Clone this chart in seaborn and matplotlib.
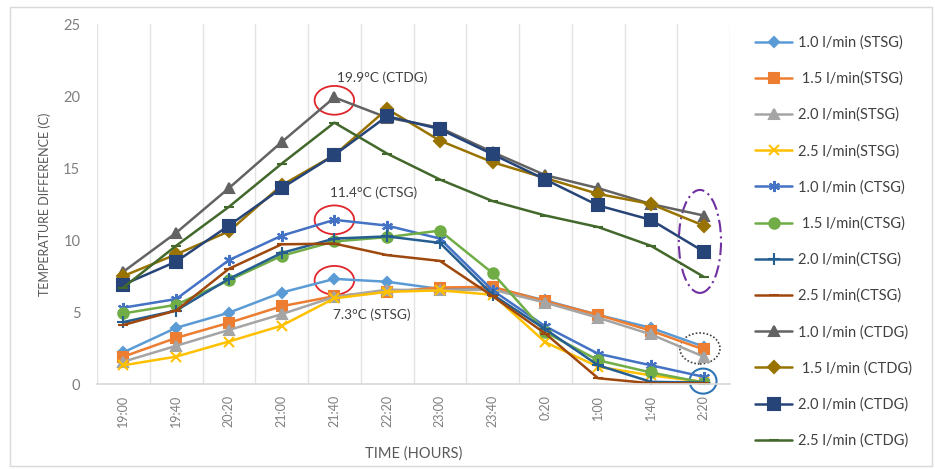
import numpy as np
import pandas as pd
import matplotlib
matplotlib.use("Agg")
import matplotlib.pyplot as plt
from matplotlib.patches import Ellipse, Rectangle
import seaborn as sns

# Sampling times over the night
times = ["19:00", "19:40", "20:20", "21:00", "21:40", "22:20",
         "23:00", "23:40", "0:20", "1:00", "1:40", "2:20"]

# Temperature difference (C) for each flow rate and generator type
stsg_10 = [2.2, 3.9, 4.95, 6.35, 7.3, 7.1, 6.6, 6.7, 5.8, 4.8, 3.9, 2.6]
stsg_15 = [1.9, 3.2, 4.25, 5.4, 6.1, 6.4, 6.7, 6.75, 5.75, 4.8, 3.7, 2.4]
stsg_20 = [1.55, 2.65, 3.75, 4.85, 6.05, 6.55, 6.5, 6.55, 5.65, 4.6, 3.45, 1.9]
stsg_25 = [1.3, 1.9, 2.95, 4.05, 5.95, 6.4, 6.5, 6.2, 2.9, 1.2, 0.6, 0.15]

ctsg_10 = [5.3, 5.9, 8.6, 10.3, 11.4, 11.0, 10.1, 6.5, 4.0, 2.1, 1.3, 0.5]
ctsg_15 = [4.9, 5.5, 7.2, 8.9, 9.9, 10.2, 10.65, 7.7, 3.6, 1.65, 0.8, 0.1]
ctsg_20 = [4.3, 5.1, 7.3, 9.1, 10.1, 10.25, 9.8, 6.2, 3.8, 1.3, 0.15, 0.1]
ctsg_25 = [4.1, 5.1, 8.0, 9.7, 9.75, 8.95, 8.55, 6.1, 3.5, 0.4, 0.05, 0.05]

ctdg_10 = [7.8, 10.5, 13.6, 16.8, 19.9, 18.5, 17.8, 16.1, 14.5, 13.6, 12.5, 11.7]
ctdg_15 = [7.5, 9.0, 10.6, 13.8, 15.9, 19.1, 16.9, 15.4, 14.3, 13.2, 12.5, 11.0]
ctdg_20 = [6.9, 8.5, 11.0, 13.6, 15.9, 18.6, 17.7, 15.95, 14.2, 12.4, 11.4, 9.2]
ctdg_25 = [6.7, 9.6, 12.3, 15.3, 18.15, 16.0, 14.2, 12.7, 11.7, 10.9, 9.6, 7.45]

labels = ["1.0 l/min (STSG)", " 1.5 l/min(STSG)", "2.0 l/min(STSG)", "2.5 l/min(STSG)",
          "1.0 l/min (CTSG)", " 1.5 l/min(CTSG)", "2.0 l/min(CTSG)", "2.5 l/min(CTSG)",
          "1.0 l/min (CTDG)", " 1.5 l/min (CTDG)", "2.0 l/min (CTDG)", "2.5 l/min (CTDG)"]
series = [stsg_10, stsg_15, stsg_20, stsg_25,
          ctsg_10, ctsg_15, ctsg_20, ctsg_25,
          ctdg_10, ctdg_15, ctdg_20, ctdg_25]

colors = ["#5B9BD5", "#ED7D31", "#A5A5A5", "#FFC000",
          "#4472C4", "#70AD47", "#255E91", "#9E480E",
          "#636363", "#997300", "#264478", "#43682B"]
markers = ["D", "s", "^", "x", (6, 2, 0), "o", "+", "_",
           "^", "D", "s", "_"]
msizes = [5.5, 7.5, 7, 7, 8, 7.5, 8, 7, 7.5, 6, 9, 7]

sns.set_theme(style="white")
plt.rcParams["font.family"] = ["Lato", "DejaVu Sans"]

fig = plt.figure(figsize=(9.35, 4.69), dpi=100)
ax = fig.add_axes([97 / 935, 1 - 384 / 469, (730 - 97) / 935, (384 - 24) / 469])

xpos = np.arange(len(times))
for vals, lab, col, mk, ms in zip(series, labels, colors, markers, msizes):
    df = pd.DataFrame({"time": xpos, "value": vals})
    sns.lineplot(data=df, x="time", y="value", ax=ax, color=col, linewidth=1.8,
                 marker=mk, markersize=ms, markeredgecolor=col,
                 markeredgewidth=1.5, label=lab, legend=False)

ax.set_xlim(-0.5, len(times) - 0.5)
ax.set_ylim(0, 25)
ax.set_yticks(np.arange(0, 26, 5))
ax.set_xticks(xpos)
ax.set_xticklabels(times, rotation=90, fontsize=9, color="#7F7F7F")
ax.tick_params(axis="y", labelsize=10.5, labelcolor="#7F7F7F", length=0, pad=12)
ax.tick_params(axis="x", length=0, pad=8)
ax.set_xticks(np.arange(-0.5, len(times), 1.0), minor=True)
ax.grid(axis="x", which="minor", color="#E3E3E3", linewidth=1)
ax.grid(axis="x", which="major", visible=False)
ax.grid(axis="y", visible=False)
for s in ["top", "right", "left"]:
    ax.spines[s].set_visible(False)
ax.spines["bottom"].set_color("#D9D9D9")

ax.set_xlabel("TIME (HOURS)", fontsize=10.5, color="#595959", labelpad=14)
ax.set_ylabel("TEMPERATURE DIFFERENCE (C)", fontsize=9, color="#595959", labelpad=9)

# Peak annotations
ax.text(4.91, 21.25, "19.9°C (CTDG)", ha="center", va="center", fontsize=9.8, color="#404040")
ax.text(4.74, 13.26, "11.4°C (CTSG)", ha="center", va="center", fontsize=9.8, color="#404040")
ax.text(4.71, 4.8, "7.3°C (STSG)", ha="center", va="center", fontsize=9.8, color="#404040")

for cy in [19.7, 11.4, 7.2]:
    ax.add_patch(Ellipse((4.0, cy), 0.75, 2.0, fill=False, edgecolor="#E0262B", linewidth=1.3))

ax.add_patch(Ellipse((10.93, 9.9), 0.8, 7.15, fill=False, edgecolor="#7030A0",
                     linewidth=1.5, linestyle=(0, (6, 2, 1, 2))))
ax.add_patch(Ellipse((10.93, 2.47), 0.76, 2.15, fill=False, edgecolor="#404040",
                     linewidth=1.2, linestyle=(0, (1, 1.2))))
ax.add_patch(Ellipse((10.99, 0.2), 0.51, 1.74, fill=False, edgecolor="#2E75B6",
                     linewidth=1.5, clip_on=False))

handles, labs = ax.get_legend_handles_labels()
fig.legend(handles, labs, loc="upper left", bbox_to_anchor=(748 / 935, 1 - 28 / 469),
           frameon=False, fontsize=10.5, labelspacing=1.5, handlelength=2.5,
           handletextpad=0.45, borderpad=0, labelcolor="#404040")

# Light chart border
fig.patches.append(Rectangle((10 / 935, 3 / 469), 922 / 935, 459 / 469, transform=fig.transFigure,
                             fill=False, edgecolor="#D9D9D9", linewidth=1))

fig.savefig("out.png", dpi=100)
